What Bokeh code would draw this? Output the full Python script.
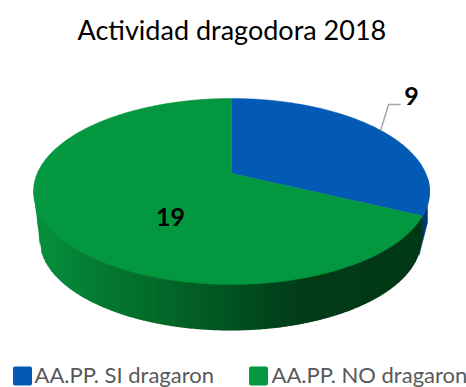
import numpy as np
from bokeh.plotting import figure
from bokeh.models import Range1d
from bokeh.core.properties import value
from bokeh.embed import file_html
from bokeh.resources import INLINE

title_text = "Actividad dragodora 2018"
categories = ["AA.PP. SI dragaron", "AA.PP. NO dragaron"]
values = [9, 19]
slice_colors = ["#035ab4", "#03973f"]

W, H = 466, 387
FONT = value("Lato")

# Perspective projection of the pie's top disc, in page pixels
CX, CY, K, B, A = 231.0, 173.0, 194.3, 89.5, 0.1935
# Lower rim of the pie
BX, BY, BRX, BRY = 230.0, 239.0, 191.0, 91.0


def project(theta):
    w = 1 + A * np.cos(theta)
    return CX + K * np.sin(theta) / w, CY - B * np.cos(theta) / w


def top_edge(x):
    return 191 + 93 * np.sqrt(np.clip(1 - ((x - 231) / 198) ** 2, 0, 1))


def bottom_edge(x):
    y = BY + BRY * np.sqrt(np.clip(1 - ((x - BX) / BRX) ** 2, 0, 1))
    left = BX - BRX
    return np.where(x < left, 191 + (x - 33) / (left - 33) * (BY - 191), y)


def wall_color(x):
    stops_x = [33, 90, 160, 231, 300, 421]
    stops = np.array([[6, 146, 62], [4, 125, 52], [3, 105, 42], [2, 82, 32], [1, 60, 24], [1, 56, 22]])
    c = [int(np.interp(x, stops_x, stops[:, i])) for i in range(3)]
    return "#%02x%02x%02x" % tuple(c)


p = figure(width=W, height=H, x_range=Range1d(0, W), y_range=Range1d(H, 0),
           output_backend="svg", toolbar_location=None, min_border=0,
           margin=(0, 0, 0, 0))
p.axis.visible = False
p.grid.visible = False
p.outline_line_color = None
p.background_fill_color = "#ffffff"
p.border_fill_color = "#ffffff"

total = sum(values)
edges = np.concatenate([[0], np.cumsum(values)]) / total * 2 * np.pi

# blue rim sliver on the right
corner = project(edges[1])
th = np.linspace(edges[1], np.pi / 2 + 0.05, 12)
sx, sy = project(th)
p.patch(list(sx) + [427, 418.5], list(sy) + [222, 255], fill_color="#02367a", line_color="#02367a", line_width=0.5)

# side wall, as vertical strips shaded from left to right
xs_strip = np.arange(33, corner[0], 2.0)
sxs, sys, cols = [], [], []
for x0 in xs_strip:
    x1 = min(x0 + 2.5, corner[0])
    sxs.append([x0, x1, x1, x0])
    sys.append([top_edge(x0) - 2, top_edge(x1) - 2, bottom_edge(np.array(x1)).item(), bottom_edge(np.array(x0)).item()])
    cols.append(wall_color(x0))
p.patches(sxs, sys, fill_color=cols, line_color=None)

# top disc slices
for i in range(len(values)):
    th = np.linspace(edges[i], edges[i + 1], 160)
    x, y = project(th)
    p.patch([CX] + list(x), [CY] + list(y), fill_color=slice_colors[i], line_color=slice_colors[i], line_width=0.5)

# leader line for the first slice
mx, my = project((edges[0] + edges[1]) / 2)
p.line([mx, mx + 8, mx + 20], [my, 104, 104], line_color="#a6a6a6", line_width=1.5)

# labels
p.text([77], [28.5], text=[title_text], text_font=FONT, text_font_size="27px", text_color="#000000",
       text_align="left", text_baseline="middle")
p.text([411], [95], text=[str(values[0])], text_font=FONT, text_font_style="bold", text_font_size="25px",
       text_color="#000000", text_align="center", text_baseline="middle")
p.text([170], [216.5], text=[str(values[1])], text_font=FONT, text_font_style="bold", text_font_size="25px",
       text_color="#000000", text_align="center", text_baseline="middle")

# legend
p.rect([22, 258], [375.5, 375.5], width=15, height=15, fill_color=slice_colors, line_color=slice_colors,
       line_width=4, line_join="round")
p.text([34, 271], [373.5, 373.5], text=categories, text_font=FONT, text_font_size="22px", text_color="#595959",
       text_align="left", text_baseline="middle")

open("out.html", "w").write(file_html(p, INLINE))
